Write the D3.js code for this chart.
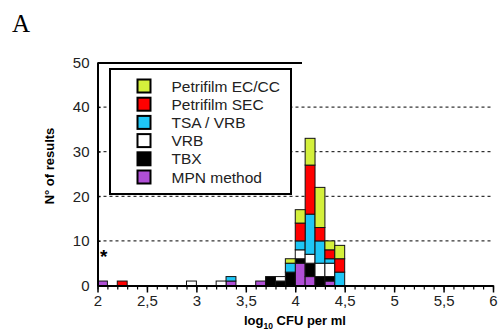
<!DOCTYPE html>
<html>
<head>
<meta charset="utf-8">
<script src="https://d3js.org/d3.v7.min.js"></script>
<style>
  body { margin: 0; background: #fff; }
  svg { font-family: "Liberation Sans", Arial, sans-serif; }
  .grid line { stroke: #000; stroke-width: 1; stroke-dasharray: 3,3; }
</style>
</head>
<body>
<svg width="502" height="336"></svg>
<script>
// bins of 0.1 log10 CFU/ml, left edge of each bin
const binStarts = [2.0, 2.2, 2.9, 3.2, 3.3, 3.6, 3.7, 3.8, 3.9, 4.0, 4.1, 4.2, 4.3, 4.4];
const mpn  = [1, 0, 0, 0, 1, 1, 0, 0, 0, 5, 2, 0, 1, 0];
const tbx  = [0, 0, 0, 0, 0, 0, 2, 1, 3, 1, 3, 2, 1, 0];
const vrb  = [0, 0, 1, 1, 0, 0, 0, 1, 0, 2, 2, 3, 3, 0];
const tsa  = [0, 0, 0, 0, 1, 0, 0, 0, 2, 2, 9, 5, 1, 3];
const sec  = [0, 1, 0, 0, 0, 0, 0, 0, 0, 4, 11, 3, 2, 3];
const eccc = [0, 0, 0, 0, 0, 0, 0, 0, 1, 3, 6, 9, 2, 3];

const seriesKeys = ["mpn", "tbx", "vrb", "tsa", "sec", "eccc"];  // bottom -> top
const seriesNames = {eccc: "Petrifilm EC/CC", sec: "Petrifilm SEC", tsa: "TSA / VRB",
                     vrb: "VRB", tbx: "TBX", mpn: "MPN method"};
const colors = {eccc: "#d4f03c", sec: "#ff0000", tsa: "#1ec6f6",
                vrb: "#ffffff", tbx: "#000000", mpn: "#b04fd6"};
const legendOrder = ["eccc", "sec", "tsa", "vrb", "tbx", "mpn"];

const xMajor = [2, 2.5, 3, 3.5, 4, 4.5, 5, 5.5, 6];
const yTicks = [0, 10, 20, 30, 40, 50];
const gridVals = [10, 20, 30, 40];

const svg = d3.select("svg");
const x = d3.scaleLinear().domain([2, 6]).range([97.5, 493]);
const y = d3.scaleLinear().domain([0, 50]).range([285.5, 62.5]);

const table = binStarts.map((b, i) => ({
  bin: b, mpn: mpn[i], tbx: tbx[i], vrb: vrb[i], tsa: tsa[i], sec: sec[i], eccc: eccc[i]
}));
const stacked = d3.stack().keys(seriesKeys)(table);

// gridlines
svg.append("g").attr("class", "grid")
  .selectAll("line").data(gridVals).enter().append("line")
  .attr("x1", x(2)).attr("x2", x(6))
  .attr("y1", d => y(d)).attr("y2", d => y(d));

// bars
svg.append("g").selectAll("g").data(stacked).enter().append("g")
  .attr("fill", d => colors[d.key])
  .selectAll("rect").data(d => d.filter(s => s[1] > s[0])).enter().append("rect")
  .attr("x", d => x(d.data.bin))
  .attr("width", d => x(d.data.bin + 0.1) - x(d.data.bin))
  .attr("y", d => y(d[1]))
  .attr("height", d => y(d[0]) - y(d[1]))
  .attr("stroke", "#111").attr("stroke-width", 1);

// legend
const lg = svg.append("g");
lg.append("line").attr("x1", 97.5).attr("x2", 302).attr("y1", 63).attr("y2", 63)
  .attr("stroke", "#000").attr("stroke-width", 2);
lg.append("rect").attr("x", 110).attr("y", 69).attr("width", 181).attr("height", 125)
  .attr("fill", "#fff").attr("stroke", "#000").attr("stroke-width", 2);
legendOrder.forEach((k, i) => {
  const cy = 86 + i * 18.2;
  lg.append("rect").attr("x", 137.5).attr("y", cy - 6.5).attr("width", 13).attr("height", 13)
    .attr("fill", colors[k]).attr("stroke", "#000").attr("stroke-width", 2);
  lg.append("text").attr("x", 171.5).attr("y", cy + 5.5)
    .attr("font-size", 15.5).attr("fill", "#222").text(seriesNames[k]);
});

// x axis
const fmt = d => String(d).replace(".", ",");
const xMinor = d3.range(20, 61).map(v => v / 10);
svg.append("g").attr("transform", "translate(0,285.5)")
  .call(d3.axisBottom(x).tickValues(xMinor).tickSize(4).tickFormat(""))
  .call(g => g.select(".domain").remove())
  .call(g => g.selectAll("line").attr("stroke-width", 1.2));
svg.append("g").attr("transform", "translate(0,285.5)")
  .call(d3.axisBottom(x).tickValues(xMajor).tickSize(7).tickSizeOuter(0).tickPadding(3).tickFormat(fmt))
  .call(g => g.select(".domain").attr("stroke-width", 2))
  .call(g => g.selectAll("line").attr("stroke-width", 1.5))
  .call(g => g.selectAll("text").attr("font-size", 15).attr("fill", "#222")
    .attr("font-family", "Liberation Sans, Arial, sans-serif"));

// y axis
svg.append("g").attr("transform", "translate(97.5,0)")
  .call(d3.axisLeft(y).tickValues(yTicks).tickSizeInner(-3).tickSizeOuter(0).tickPadding(8))
  .call(g => g.select(".domain").attr("stroke-width", 2))
  .call(g => g.selectAll("text").attr("font-size", 15).attr("fill", "#222")
    .attr("font-family", "Liberation Sans, Arial, sans-serif"));

// titles
const xt = svg.append("text").attr("x", 244).attr("y", 325)
  .attr("font-size", 13).attr("font-weight", "bold");
xt.append("tspan").text("log");
xt.append("tspan").attr("font-size", 8.5).attr("dy", 4).text("10");
xt.append("tspan").attr("dy", -4).text(" CFU per ml");

svg.append("text").attr("transform", "translate(54,166) rotate(-90)")
  .attr("text-anchor", "middle").attr("font-size", 13).attr("font-weight", "bold")
  .text("N° of results");

svg.append("text").attr("x", 12).attr("y", 32)
  .attr("font-family", "Liberation Serif, Times New Roman, serif").attr("font-size", 25)
  .text("A");

svg.append("text").attr("x", 100).attr("y", 263).attr("font-size", 19)
  .attr("font-weight", "bold").attr("fill", "#000").text("*");
</script>
</body>
</html>
